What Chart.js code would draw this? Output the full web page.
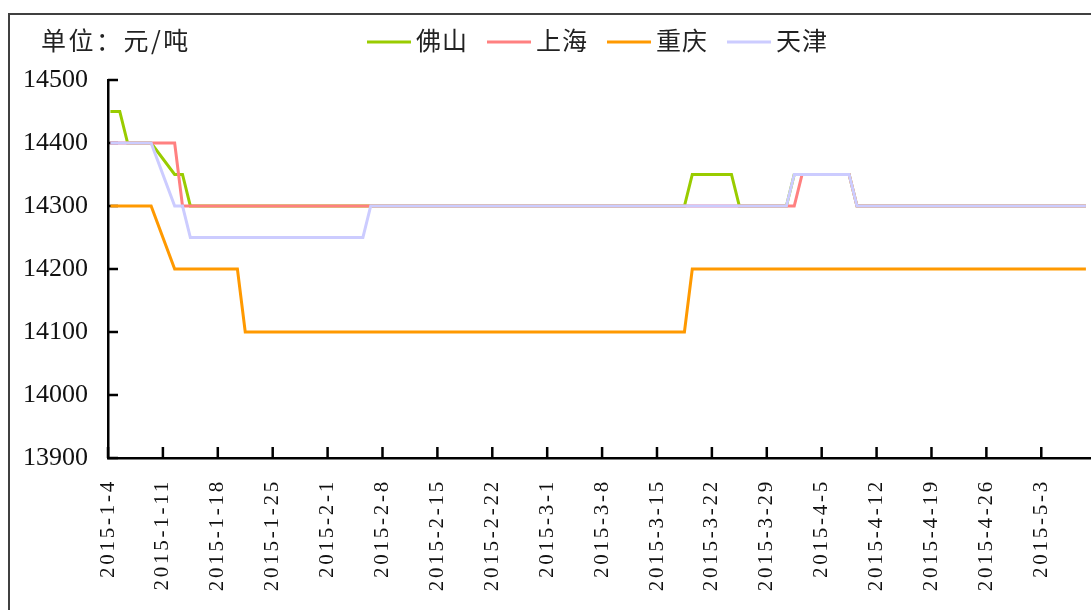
<!DOCTYPE html>
<html><head><meta charset="utf-8">
<script src="https://cdn.jsdelivr.net/npm/chart.js@4.4.1/dist/chart.umd.min.js"></script>
<style>
html,body{margin:0;padding:0;background:#fff;overflow:hidden;width:1091px;height:610px}
#frame{position:absolute;left:8px;top:13px;width:1200px;height:700px;border:2px solid #404040;box-sizing:border-box}
#wrap{position:absolute;left:0;top:0;width:1091px;height:610px}
</style></head><body>
<div id="frame"></div>
<div id="wrap"><canvas id="c" width="1091" height="610"></canvas></div>
<script>
const unitLabel = '单位：元/吨';
const seriesNames = ['佛山', '上海', '重庆', '天津'];
const seriesColors = ['#99CC00', '#FF8080', '#FF9900', '#CCCCFF'];
const dates = ['2015-1-4','2015-1-5','2015-1-6','2015-1-9','2015-1-12','2015-1-13','2015-1-14','2015-1-20','2015-1-21','2015-2-5','2015-2-6','2015-3-18','2015-3-19','2015-3-24','2015-3-25','2015-3-31','2015-4-1','2015-4-2','2015-4-8','2015-4-9','2015-5-8'];
const foshan   = [14450,14450,14400,14400,14350,14350,14300,14300,14300,14300,14300,14300,14350,14350,14300,14300,14350,14350,14350,14300,14300];
const shanghai = [14400,14400,14400,14400,14400,14300,14300,14300,14300,14300,14300,14300,14300,14300,14300,14300,14300,14350,14350,14300,14300];
const chongqing= [14300,14300,14300,14300,14200,14200,14200,14200,14100,14100,14100,14100,14200,14200,14200,14200,14200,14200,14200,14200,14200];
const tianjin  = [14400,14400,14400,14400,14300,14300,14250,14250,14250,14250,14300,14300,14300,14300,14300,14300,14350,14350,14350,14300,14300];
const tickLabels = ['2015-1-4','2015-1-11','2015-1-18','2015-1-25','2015-2-1','2015-2-8','2015-2-15','2015-2-22','2015-3-1','2015-3-8','2015-3-15','2015-3-22','2015-3-29','2015-4-5','2015-4-12','2015-4-19','2015-4-26','2015-5-3'];
const yMin = 13900, yMax = 14500, yStep = 100;

function dayOffset(s) {
  const [y, m, d] = s.split('-').map(Number);
  return (Date.UTC(y, m - 1, d) - Date.UTC(2015, 0, 4)) / 86400000;
}
// points sit between tick marks (half a day after the date's tick)
function toPoints(vals) { return vals.map((v, i) => ({ x: dayOffset(dates[i]) + 0.5, y: v })); }

const allSeries = [foshan, shanghai, chongqing, tianjin];
const datasets = allSeries.map((vals, i) => ({
  label: seriesNames[i],
  data: toPoints(vals),
  borderColor: seriesColors[i],
  backgroundColor: seriesColors[i],
  borderWidth: 3,
  borderCapStyle: 'square',
  pointRadius: 0,
  tension: 0,
  order: allSeries.length - 1 - i
}));

const inwardTicks = {
  id: 'inwardTicks',
  beforeDraw(chart) { chart.ctx.letterSpacing = '0px'; },
  beforeDatasetsDraw(chart) {
    const { ctx, chartArea: a, scales: { x, y } } = chart;
    ctx.save();
    ctx.strokeStyle = '#000';
    ctx.lineWidth = 2.5;
    ctx.beginPath();
    y.ticks.forEach(t => { const py = y.getPixelForValue(t.value); ctx.moveTo(a.left, py); ctx.lineTo(a.left + 10, py); });
    x.ticks.forEach(t => { const px = x.getPixelForValue(t.value); ctx.moveTo(px, a.bottom); ctx.lineTo(px, a.bottom - 11); });
    ctx.stroke();
    ctx.restore();
  },
  afterDatasetsDraw(chart) { chart.ctx.letterSpacing = '2.75px'; }
};

const header = {
  id: 'header',
  afterDraw(chart) {
    const ctx = chart.ctx;
    ctx.save();
    ctx.font = '25px "Noto Sans CJK SC"';
    ctx.textBaseline = 'middle';
    ctx.fillStyle = '#222';
    ctx.letterSpacing = '2.5px';
    ctx.fillText(unitLabel, 41, 40);
    ctx.letterSpacing = '1px';
    let x = 367;
    chart.data.datasets.forEach(ds => {
      ctx.strokeStyle = ds.borderColor;
      ctx.lineWidth = 3;
      ctx.beginPath(); ctx.moveTo(x, 42); ctx.lineTo(x + 44, 42); ctx.stroke();
      x += 49;
      ctx.fillText(ds.label, x, 40);
      x += ctx.measureText(ds.label).width + 19;
    });
    ctx.restore();
    ctx.letterSpacing = '0px';
  }
};

new Chart(document.getElementById('c'), {
  type: 'line',
  data: { datasets },
  plugins: [inwardTicks, header],
  options: {
    responsive: false,
    animation: false,
    layout: { padding: { top: 80, left: 0, right: 0, bottom: 0 } },
    plugins: { legend: { display: false }, tooltip: { enabled: false } },
    scales: {
      x: {
        type: 'linear',
        min: 0,
        max: 125.34,
        grid: { display: false, drawTicks: false },
        border: { display: true, color: '#000', width: 2.5 },
        afterBuildTicks: s => { s.ticks = tickLabels.map(l => ({ value: dayOffset(l) })); },
        afterFit: s => { s.height = 152; },
        ticks: {
          z: 1,
          autoSkip: false,
          minRotation: 90,
          maxRotation: 90,
          padding: 21,
          color: '#111',
          font: { family: 'Liberation Serif', size: 21 },
          callback: (v, i) => tickLabels[i]
        }
      },
      y: {
        min: yMin,
        max: yMax,
        grid: { display: false, drawTicks: false },
        border: { display: true, color: '#000', width: 2.5 },
        afterFit: s => { s.width = 108; },
        ticks: {
          stepSize: yStep,
          padding: 20,
          color: '#111',
          font: { family: 'Liberation Serif', size: 26 },
          callback: v => String(v)
        }
      }
    }
  }
});
</script>
</body></html>
